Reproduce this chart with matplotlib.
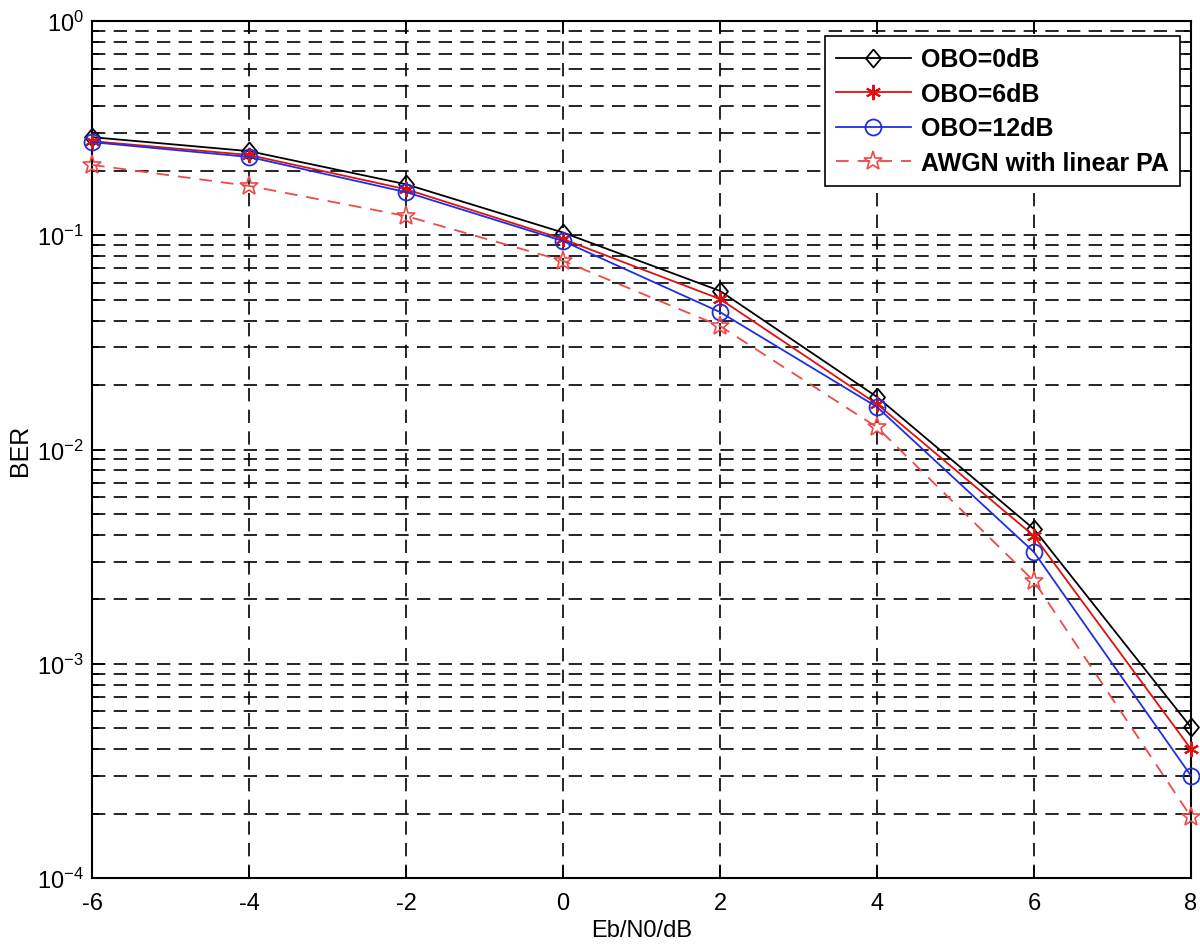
import numpy as np
import matplotlib
matplotlib.use('Agg')
import matplotlib.pyplot as plt
from matplotlib.ticker import LogLocator, FixedLocator, NullFormatter, FuncFormatter

plt.rcParams['font.family'] = ['Liberation Sans', 'DejaVu Sans']
plt.rcParams['mathtext.fontset'] = 'custom'
plt.rcParams['mathtext.rm'] = 'Liberation Sans'
plt.rcParams['mathtext.it'] = 'Liberation Sans'
plt.rcParams['axes.unicode_minus'] = False

# Eb/N0 (dB)
ebn0 = [-6, -4, -2, 0, 2, 4, 6, 8]

# BER values
ber_obo0 = [0.287, 0.247, 0.173, 0.103, 0.055, 0.0176, 0.00425, 5.05e-4]
ber_obo6 = [0.275, 0.237, 0.164, 0.096, 0.0504, 0.0163, 0.00395, 4.0e-4]
ber_obo12 = [0.272, 0.232, 0.159, 0.094, 0.0438, 0.0158, 0.00332, 3.0e-4]
ber_awgn = [0.213, 0.170, 0.123, 0.076, 0.0377, 0.0127, 0.00243, 1.93e-4]

labels = ['OBO=0dB', 'OBO=6dB', 'OBO=12dB', 'AWGN with linear PA']

# MATLAB style diamond (a bit taller than wide)
diamond = [(0, 1), (0.83, 0), (0, -1), (-0.83, 0), (0, 1)]

fig = plt.figure(figsize=(12, 9.45), dpi=100)
ax = fig.add_axes([0.0767, 0.0698, 0.9158, 0.9069])

ax.plot(ebn0, ber_obo0, color='black', lw=1.3, marker=diamond, ms=13,
        mfc='none', mec='black', mew=1.3, label=labels[0], clip_on=False, zorder=4)
ax.plot(ebn0, ber_obo6, color='#e01010', lw=1.3, marker=(6, 2, 0), ms=11,
        mec='#e01010', mew=1.5, label=labels[1], clip_on=False, zorder=4)
ax.plot(ebn0, ber_obo12, color='#1f2fe0', lw=1.3, marker='o', ms=11.5,
        mfc='none', mec='#1f2fe0', mew=1.3, label=labels[2], clip_on=False, zorder=4)
ax.plot(ebn0, ber_awgn, color='#f04848', lw=1.3, ls=(0, (7, 5)), marker='*', ms=14,
        mfc='none', mec='#f04848', mew=1.2, label=labels[3], clip_on=False, zorder=4)

ax.set_yscale('log')
ax.set_xlim(-6, 8)
ax.set_ylim(1e-4, 1e0)
ax.xaxis.set_major_locator(FixedLocator(ebn0))
ax.yaxis.set_major_locator(LogLocator(base=10, numticks=10))
ax.yaxis.set_minor_locator(LogLocator(base=10, subs=np.arange(2, 10), numticks=20))
ax.yaxis.set_minor_formatter(NullFormatter())
ax.yaxis.set_major_formatter(FuncFormatter(lambda v, p: r'$\mathregular{10^{%d}}$' % round(np.log10(v))))

grid_dash = (0, (8, 5))
ax.grid(True, which='major', axis='both', color='black', lw=1.2, ls=grid_dash)
ax.grid(True, which='minor', axis='y', color='black', lw=1.2, ls=grid_dash)
ax.set_axisbelow(True)

ax.tick_params(which='both', direction='in', top=True, right=True, labelsize=17, width=1.2)
ax.tick_params(which='major', length=9)
ax.tick_params(axis='x', which='major', pad=10)
ax.tick_params(axis='y', which='major', pad=6)
ax.tick_params(which='minor', length=5)
for s in ax.spines.values():
    s.set_linewidth(1.5)

ax.set_xlabel('Eb/N0/dB', fontsize=17)
ax.set_ylabel('BER', fontsize=18)
ax.xaxis.set_label_coords(0.5, -0.048)
ax.yaxis.set_label_coords(-0.055, 0.5)

leg = ax.legend(loc='upper right', bbox_to_anchor=(0.99, 0.9825), borderaxespad=0,
                prop={'weight': 'bold', 'size': 18}, handlelength=3.0,
                fancybox=False, framealpha=1, edgecolor='black',
                borderpad=0.45, labelspacing=0.42, handletextpad=0.4)
leg.get_frame().set_linewidth(1.2)

fig.savefig('out.png', dpi=100)
